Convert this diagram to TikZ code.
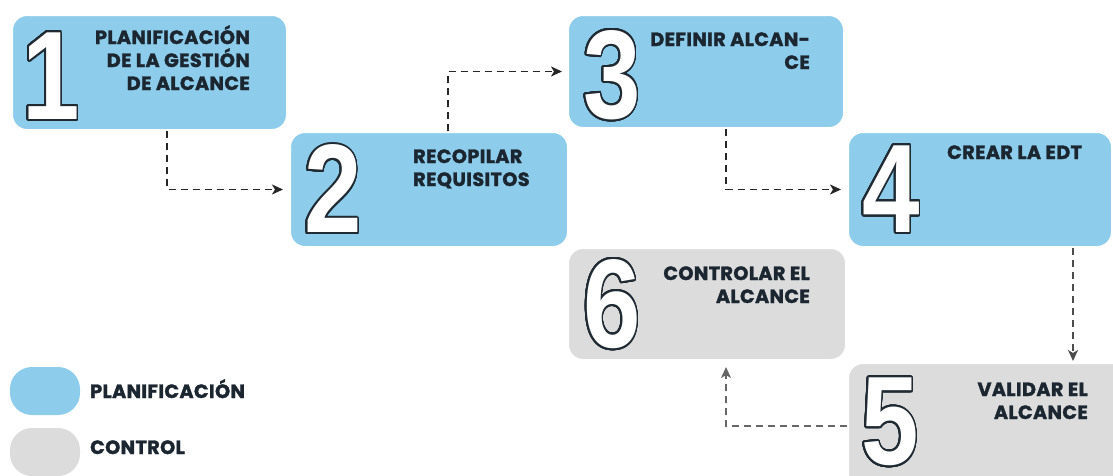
\documentclass[tikz,border=0pt]{standalone}
\usepackage{fontspec}
\usepackage{xcolor}
\usepackage{contour}
\usepackage{graphicx}
\usepackage{tikz}
\usetikzlibrary{arrows.meta,positioning,calc}
\newfontfamily\lblfont{Poppins}[BoldFeatures={FakeBold=1.6},LetterSpace=2]
\newfontfamily\numfont{Liberation Sans}
\definecolor{planblue}{HTML}{8DCDEB}
\definecolor{ctrlgray}{HTML}{DCDCDC}
\definecolor{txtdark}{HTML}{1B2631}
\definecolor{numline}{HTML}{1F2A33}
\contourlength{2pt}
\contournumber{32}
\tikzset{
  plan/.style={draw=white,line width=2pt,fill=planblue,rounded corners=15pt,
              minimum width=276pt,minimum height=115pt,inner sep=0pt},
  ctrl/.style={draw=white,line width=2pt,fill=ctrlgray,rounded corners=15pt,
              minimum width=276pt,minimum height=112pt,inner sep=0pt},
  lbl/.style={font=\lblfont\bfseries\fontsize{19.2}{23}\selectfont,text=txtdark,inner sep=0pt},
  num/.style={font=\numfont\bfseries\fontsize{126}{126}\selectfont,inner sep=0pt},
  flow/.style={-{Stealth[length=11pt,width=10pt,inset=3pt]},line width=1.8pt,
              dash pattern=on 7pt off 5pt,black!85},
  pill/.style={rounded corners=22pt,minimum width=70pt,minimum height=48pt,inner sep=0pt}
}
\newcommand{\bignum}[1]{\scalebox{0.82}[1]{\contour{numline}{\color{white}#1}}}

\begin{document}
\begin{tikzpicture}[x=1pt,y=-1pt]
  \useasboundingbox (0,0) rectangle (1113,475);
  \clip (0,0) rectangle (1113,475);
  % ---- process boxes ----
  \node[plan,minimum width=275pt] (b1) at (149.5,72.5) {};
  \node[plan,minimum width=278pt] (b2) at (429,189.5) {};
  \node[plan,minimum height=113pt] (b3) at (706,71.5) {};
  \node[plan,minimum width=264pt] (b4) at (980,189.5) {};
  \node[ctrl,minimum width=278pt] (b6) at (707,304) {};
  \node[ctrl,minimum width=282pt,minimum height=126pt] (b5) at (989,426) {};
  % ---- big step numbers ----
  \node[num] (n1) at (51,77) {\bignum{1}};
  \node[num] (n2) at (333,190) {\bignum{2}};
  \node[num] (n3) at (612,76) {\bignum{3}};
  \node[num] (n4) at (891,190) {\bignum{4}};
  \node[num] (n6) at (612,305) {\bignum{6}};
  \node[num] (n5) at (890,423) {\bignum{5}};
  % ---- step titles (base = last line) ----
  \node[lbl,align=right,anchor=base east] (t1) at (250,90) {PLANIFICACIÓN\\DE LA GESTIÓN\\DE ALCANCE};
  \node[lbl,align=left,anchor=base west] (t2) at (413,186) {RECOPILAR\\REQUISITOS};
  \node[lbl,align=right,anchor=base east] (t3) at (810,69) {DEFINIR ALCAN-\\CE};
  \node[lbl,align=left,anchor=base west] (t4) at (947,159) {CREAR LA EDT};
  \node[lbl,align=right,anchor=base east] (t6) at (810,303) {CONTROLAR EL\\ALCANCE};
  \node[lbl,align=right,anchor=base east] (t5) at (1088,419) {VALIDAR EL\\ALCANCE};
  % ---- dashed flow ----
  \draw[flow,shorten >=6pt] ([xshift=17.5pt]b1.south) |- (b2.west);
  \draw[flow,shorten >=5pt] ([xshift=19pt]b2.north) |- (b3.west);
  \draw[flow,shorten >=6pt] ([xshift=20pt]b3.south) |- (b4.west);
  \draw[flow,black!70,shorten >=1pt] ([xshift=93pt]b4.south) -- ([xshift=93pt]b4.south |- b5.north);
  \draw[flow,black!60,shorten >=6pt] (b5.west) -| ([xshift=19pt]b6.south);
  % ---- legend ----
  \node[pill,fill=planblue] (kplan) at (45,391) {};
  \node[pill,fill=ctrlgray] (kctrl) at (45,452) {};
  \node[lbl,anchor=base west] (lplan) at (90,398) {PLANIFICACIÓN};
  \node[lbl,anchor=base west] (lctrl) at (90,454) {CONTROL};
\end{tikzpicture}
\end{document}
